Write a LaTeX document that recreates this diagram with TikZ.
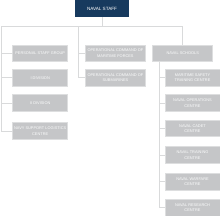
\documentclass[tikz,border=0pt]{standalone}
\usepackage{fontspec}
\setmainfont{Liberation Sans}
\usetikzlibrary{positioning}

\definecolor{navy}{HTML}{173A5E}
\definecolor{unitgray}{HTML}{C5C6C8}
\definecolor{unitedge}{HTML}{DDDEDF}
\definecolor{linkgray}{HTML}{D9DADB}

\begin{document}
\begin{tikzpicture}[
    x=1pt, y=-1pt,
    head/.style={rectangle, fill=navy, draw=none, text=white,
                minimum width=54.3pt, minimum height=17.3pt,
                inner sep=0pt, outer sep=0pt, align=center,
                font=\fontsize{4.6}{5.4}\selectfont},
    unit/.style={rectangle, fill=unitgray, draw=unitedge, line width=0.6pt,
                text=white!94!unitgray, minimum height=16.7pt,
                inner sep=0pt, outer sep=0pt, align=center,
                font=\fontsize{3.9}{5.4}\selectfont},
    leftunit/.style={unit, minimum width=55pt},
    midunit/.style={unit, minimum width=60.7pt},
    rightunit/.style={unit, minimum width=55pt},
    link/.style={draw=linkgray, line width=0.7pt}
]
\useasboundingbox (0,0) rectangle (220,216);

%% NAVAL STAFF
\node[head] (staff) at (102,8.65) {NAVAL STAFF};

\coordinate (busL) at (1,26.7);
\coordinate (busM) at (78.7,26.7);
\coordinate (busR) at (182.7,26.7);

%% LEFT BRANCH
\node[leftunit] (staffgroup) at (40.2,53.3) {PERSONAL STAFF GROUP};
\node[leftunit] (divone) at (40.2,77.7) {I DIVISION};
\node[leftunit] (divtwo) at (40.2,103) {II DIVISION};
\node[leftunit] (logistics) at (40.2,131) {NAVY SUPPORT LOGISTICS\\CENTRE};

%% MIDDLE BRANCH
\node[midunit] (opsea) at (115.4,53.3) {OPERATIONAL COMMAND OF\\MARITIME FORCES};
\node[midunit] (opsub) at (115.4,77.7) {OPERATIONAL COMMAND OF\\SUBMARINES};

%% RIGHT BRANCH
\node[unit, minimum width=60pt] (schools) at (182.7,53.3) {NAVAL SCHOOLS};
\node[rightunit] (ctrone) at (192.5,77.7) {MARITIME SAFETY\\TRAINING CENTRE};
\node[rightunit] (ctrtwo) at (192.5,103) {NAVAL OPERATIONS\\CENTRE};
\node[rightunit] (ctrthree) at (192.5,128.4) {NAVAL CADET\\CENTRE};
\node[rightunit] (ctrfour) at (192.5,155) {NAVAL TRAINING\\CENTRE};
\node[rightunit] (ctrfive) at (192.5,181.6) {NAVAL WARFARE\\CENTRE};
\node[rightunit] (ctrsix) at (192.5,207.5) {NAVAL RESEARCH\\CENTRE};

\coordinate (trunkR) at (159.3,61.7);

%% CONNECTORS
\draw[link] (staff.south) -- (staff.south |- busL);
\draw[link] (busR) -- (busL) -- (busL |- logistics.west) -- (logistics.west);
\foreach \u in {staffgroup, divone, divtwo}
    \draw[link] (busL |- \u.west) -- (\u.west);

\draw[link] (busM) -- (busM |- opsub.west) -- (opsub.west);
\draw[link] (busM |- opsea.west) -- (opsea.west);

\draw[link] (busR) -- (schools.north);
\draw[link] (trunkR) -- (trunkR |- ctrsix.west) -- (ctrsix.west);
\foreach \u in {ctrone, ctrtwo, ctrthree, ctrfour, ctrfive}
    \draw[link] (trunkR |- \u.west) -- (\u.west);

\end{tikzpicture}
\end{document}
